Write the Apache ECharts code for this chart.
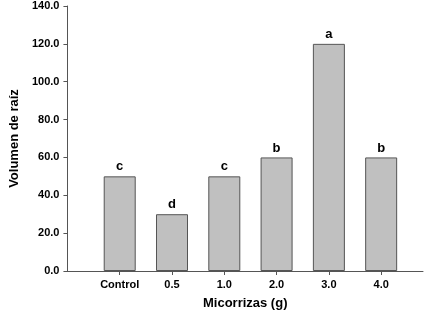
<!DOCTYPE html>
<html>
<head>
<meta charset="utf-8">
<script src="https://cdn.jsdelivr.net/npm/echarts@6/dist/echarts.min.js"></script>
<style>
  html, body { margin: 0; padding: 0; background: #fff; }
  #chart { width: 435px; height: 315px; }
</style>
</head>
<body>
<div id="chart"></div>
<script>
// datos del grafico
let categories = ['Control', '0.5', '1.0', '2.0', '3.0', '4.0'];
let positions = [1, 2, 3, 4, 5, 6];
let volumen = [50, 30, 50, 60, 120, 60];
let letras = ['c', 'd', 'c', 'b', 'a', 'b'];
let yTicks = [0, 20, 40, 60, 80, 100, 120, 140];

let font = 'Liberation Sans, Arial, sans-serif';
let axisColor = '#555';

let option = {
  animation: false,
  grid: {left: 59, right: 12, top: 6, bottom: 39, containLabel: false},
  xAxis: {
    type: 'value',
    min: 0,
    max: 6.8,
    interval: 1,
    name: 'Micorrizas (g)',
    nameLocation: 'middle',
    nameGap: 26,
    nameTextStyle: {fontFamily: font, fontWeight: 'bold', fontSize: 13, color: '#000'},
    splitLine: {show: false},
    axisLine: {lineStyle: {color: axisColor, width: 1}},
    axisTick: {show: true, customValues: positions, length: 4, inside: false, lineStyle: {color: axisColor}},
    axisLabel: {
      customValues: positions,
      margin: 8,
      fontFamily: font, fontWeight: 'bold', fontSize: 11, color: '#000',
      formatter: v => categories[Math.round(v) - 1] || ''
    }
  },
  yAxis: {
    type: 'value',
    min: 0,
    max: 140,
    interval: 20,
    name: 'Volumen de raíz',
    nameLocation: 'middle',
    nameGap: 46,
    nameTextStyle: {fontFamily: font, fontWeight: 'bold', fontSize: 13, color: '#000'},
    splitLine: {show: false},
    axisLine: {show: true, lineStyle: {color: axisColor, width: 1}},
    axisTick: {show: true, length: 4, lineStyle: {color: axisColor}},
    axisLabel: {
      margin: 8,
      fontFamily: font, fontWeight: 'bold', fontSize: 11, color: '#000',
      formatter: v => yTicks.indexOf(v) >= 0 ? v.toFixed(1) : ''
    }
  },
  series: [{
    type: 'bar',
    barWidth: 32,
    data: positions.map((p, i) => [p, volumen[i]]),
    itemStyle: {color: '#c0c0c0', borderColor: '#555', borderWidth: 1},
    label: {
      show: true,
      position: 'top',
      distance: 3,
      fontFamily: font, fontWeight: 'bold', fontSize: 13, color: '#000',
      formatter: p => letras[p.dataIndex]
    }
  }]
};

let myChart = echarts.init(document.getElementById('chart'));
myChart.setOption(option);
</script>
</body>
</html>
